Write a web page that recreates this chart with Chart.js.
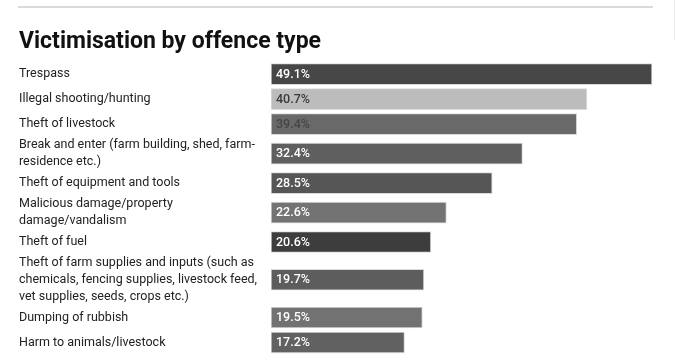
<!DOCTYPE html>
<html>
<head>
<meta charset="utf-8">
<script src="https://cdn.jsdelivr.net/npm/chart.js@4.4.1/dist/chart.umd.min.js"></script>
<style>
  html, body { margin: 0; padding: 0; background: #fff; }
  #wrap { position: relative; width: 676px; height: 364px; overflow: hidden; }
  #topRule { position: absolute; left: 18px; top: 6px; width: 635px; height: 2px; background: #dadada; }
  #sideRule { position: absolute; left: 674px; top: 0; width: 1px; height: 40px; background: #ececec; }
  #chart { position: absolute; left: 0; top: 0; }
</style>
</head>
<body>
<div id="wrap">
  <div id="topRule"></div>
  <div id="sideRule"></div>
  <canvas id="chart" width="676" height="364"></canvas>
</div>
<script>
const categories = [
    ['Trespass'],
    ['Illegal shooting/hunting'],
    ['Theft of livestock'],
    ['Break and enter (farm building, shed, farm-', 'residence etc.)'],
    ['Theft of equipment and tools'],
    ['Malicious damage/property', 'damage/vandalism'],
    ['Theft of fuel'],
    ['Theft of farm supplies and inputs (such as', 'chemicals, fencing supplies, livestock feed,', 'vet supplies, seeds, crops etc.)'],
    ['Dumping of rubbish'],
    ['Harm to animals/livestock']
];
const values = [49.1, 40.7, 39.4, 32.4, 28.5, 22.6, 20.6, 19.7, 19.5, 17.2];
const barColors = ['#474747', '#bcbcbc', '#696969', '#5f5f5f', '#565656',
                   '#737373', '#3d3d3d', '#5d5d5d', '#727272', '#616161'];
const valueColors = ['#fff', '#3a3a3a', '#454545', '#fff', '#fff',
                     '#fff', '#fff', '#fff', '#fff', '#fff'];

// each row is as tall as its label needs (bar rows at least 25)
const rowSizes = categories.map(c => Math.max(25, c.length * 16.5 + 1));
const rowCenters = [];
let total = 0;
rowSizes.forEach(s => { rowCenters.push(total + s / 2); total += s; });

const valueLabels = {
    id: 'valueLabels',
    afterDatasetsDraw(chart) {
        const ctx = chart.ctx;
        ctx.save();
        ctx.font = '500 12.5px Roboto';
        ctx.textBaseline = 'middle';
        ctx.textAlign = 'left';
        chart.getDatasetMeta(0).data.forEach((bar, i) => {
            ctx.fillStyle = valueColors[i];
            ctx.fillText(values[i].toFixed(1) + '%', bar.base + 5, bar.y + 0.5);
        });
        ctx.restore();
    }
};

const ctx = document.getElementById('chart').getContext('2d');

const chart = new Chart(ctx, {
    type: 'bar',
    data: {
        datasets: [{
            data: values.map((v, i) => ({ x: v, y: rowCenters[i] })),
            backgroundColor: barColors,
            borderColor: 'rgba(215,215,215,0.9)',
            borderWidth: 1,
            borderSkipped: false,
            barThickness: 21
        }]
    },
    options: {
        indexAxis: 'y',
        responsive: false,
        animation: false,
        layout: { padding: { left: 19, right: 17, top: 0, bottom: 9 } },
        plugins: {
            legend: { display: false },
            tooltip: { enabled: false },
            title: {
                display: true,
                text: 'Victimisation by offence type',
                align: 'start',
                color: '#111',
                font: { family: 'Roboto', size: 23, weight: 'bold', lineHeight: 1.2 },
                padding: { top: 28, bottom: 6 }
            }
        },
        scales: {
            x: {
                display: false,
                min: 0,
                max: 50
            },
            y: {
                type: 'linear',
                reverse: true,
                offset: false,
                min: 0,
                max: total,
                grid: { display: false },
                border: { display: false },
                afterBuildTicks: (scale) => {
                    scale.ticks = rowCenters.map(v => ({ value: v }));
                },
                afterFit: (scale) => {
                    scale.width = 252;
                    scale.paddingTop = 0;
                    scale.paddingBottom = 0;
                },
                ticks: {
                    autoSkip: false,
                    crossAlign: 'far',
                    padding: 0,
                    color: '#222',
                    font: { family: 'Roboto', size: 12.5, lineHeight: '16.7px' },
                    callback: (value, index) => categories[index]
                }
            }
        }
    },
    plugins: [valueLabels]
});
</script>
</body>
</html>
